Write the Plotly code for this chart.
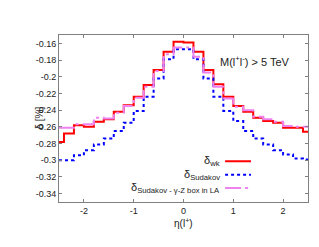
import plotly.graph_objects as go

eta = [-2.5, -2.3, -2.1, -1.9, -1.7, -1.5, -1.3, -1.1, -0.9, -0.7, -0.5, -0.3, -0.1,
       0.1, 0.3, 0.5, 0.7, 0.9, 1.1, 1.3, 1.5, 1.7, 1.9, 2.1, 2.3, 2.5]

delta_wk = [-0.278, -0.268, -0.258, -0.260, -0.254, -0.251, -0.242, -0.234, -0.224,
            -0.210, -0.192, -0.170, -0.158, -0.159, -0.170, -0.192, -0.209, -0.224,
            -0.235, -0.242, -0.249, -0.253, -0.255, -0.261, -0.261, -0.266]

delta_sudakov = [-0.300, -0.300, -0.294, -0.288, -0.281, -0.274, -0.265, -0.255, -0.241,
                 -0.224, -0.202, -0.179, -0.167, -0.167, -0.179, -0.202, -0.224, -0.241,
                 -0.253, -0.265, -0.274, -0.281, -0.288, -0.293, -0.298, -0.299]

delta_sud_gz = [-0.261, -0.261, -0.257, -0.257, -0.249, -0.250, -0.243, -0.235, -0.225,
                -0.212, -0.193, -0.173, -0.165, -0.165, -0.176, -0.195, -0.212, -0.226,
                -0.236, -0.240, -0.248, -0.251, -0.254, -0.259, -0.260, -0.260]

y_ticks = [-0.16, -0.18, -0.2, -0.22, -0.24, -0.26, -0.28, -0.3, -0.32, -0.34]
y_ticktext = ["-0.16", "-0.18", "-0.2", "-0.22", "-0.24", "-0.26", "-0.28", "-0.3", "-0.32", "-0.34"]
x_ticks = [-2, -1, 0, 1, 2]
x_ticktext = ["-2", "-1", "0", "1", "2"]

RED = "#ff0000"
BLUE = "#0000ff"
VIOLET = "#ee82ee"
PINK_DASH = "16px,4px,3px,4px"

fig = go.Figure()
fig.add_trace(go.Scatter(x=eta, y=delta_wk, mode="lines", line_shape="hvh",
                         line=dict(color=RED, width=2), showlegend=False))
fig.add_trace(go.Scatter(x=eta, y=delta_sudakov, mode="lines", line_shape="hvh",
                         line=dict(color=BLUE, width=2, dash="3px,3px"), showlegend=False))
fig.add_trace(go.Scatter(x=eta, y=delta_sud_gz, mode="lines", line_shape="hvh",
                         line=dict(color=VIOLET, width=2, dash=PINK_DASH), showlegend=False))

font = "Liberation Sans, Arial, sans-serif"
axis_common = dict(showgrid=False, zeroline=False, showline=True, linecolor="#808080",
                   linewidth=1, mirror="allticks", ticks="inside", ticklen=3,
                   tickcolor="#808080", tickfont=dict(family=font, size=9, color="#222"))

fig.update_xaxes(range=[-2.5, 2.5], tickvals=x_ticks, ticktext=x_ticktext, **axis_common)
fig.update_yaxes(range=[-0.35, -0.15], tickvals=y_ticks, ticktext=y_ticktext, **axis_common)

annotations = [
    dict(text="M(l<sup>+</sup>l<sup>-</sup>) > 5 TeV", xref="paper", yref="paper",
         x=0.787, y=0.844, xanchor="center", yanchor="middle", showarrow=False,
         font=dict(family=font, size=11, color="#222")),
    dict(text="δ [%]", xref="paper", yref="paper", x=-0.08, y=0.5, textangle=-90,
         xanchor="center", yanchor="middle", showarrow=False,
         font=dict(family=font, size=10, color="#222")),
    dict(text="η(l<sup>+</sup>)", xref="paper", yref="paper", x=0.5, y=-0.126,
         xanchor="center", yanchor="middle", showarrow=False,
         font=dict(family=font, size=10, color="#222")),
]

legend_items = [
    ("δ<sub>wk</sub>", RED, "solid", 0.244),
    ("δ<sub>Sudakov</sub>", BLUE, "3px,3px", 0.163),
    ("δ<sub>Sudakov - γ-Z box in LA</sub>", VIOLET, PINK_DASH, 0.084),
]
shapes = []
for label, color, dash, ypos in legend_items:
    annotations.append(dict(text=label, xref="paper", yref="paper", x=0.655, y=ypos,
                            xanchor="right", yanchor="middle", showarrow=False,
                            font=dict(family=font, size=11, color="#222")))
    shapes.append(dict(type="line", xref="paper", yref="paper", x0=0.667, x1=0.771,
                       y0=ypos, y1=ypos, line=dict(color=color, width=2, dash=dash)))

fig.update_layout(width=319, height=247, margin=dict(l=51, r=19, t=27, b=53),
                  paper_bgcolor="white", plot_bgcolor="white",
                  annotations=annotations, shapes=shapes, showlegend=False)

fig.write_html("out.html")
